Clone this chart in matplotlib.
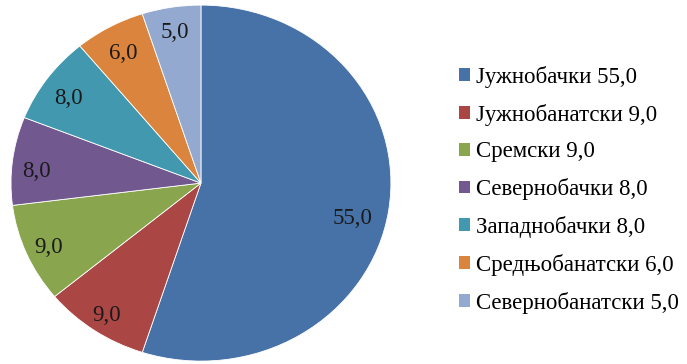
import numpy as np
import matplotlib
matplotlib.use("Agg")
import matplotlib.pyplot as plt
from matplotlib.patches import Patch

districts = ["Јужнобачки", "Јужнобанатски", "Сремски", "Севернобачки",
             "Западнобачки", "Средњобанатски", "Севернобанатски"]
shares = [55.0, 9.0, 9.0, 8.0, 8.0, 6.0, 5.0]
colors = ["#4672A8", "#AA4644", "#89A54E", "#71588F", "#4198AF", "#DB843D", "#93A9CF"]

def fmt(v):
    return f"{v:.1f}".replace(".", ",")

plt.rcParams["font.family"] = ["Liberation Serif", "DejaVu Serif"]

fig = plt.figure(figsize=(6.87, 3.64), dpi=100)
ax = fig.add_axes([0.016, 0.008, 0.553, 0.978])

wedges, _ = ax.pie(shares, colors=colors, startangle=90, counterclock=False,
                   radius=1.0, wedgeprops=dict(edgecolor="white", linewidth=0.6))
ax.set_aspect("auto")
ax.set_xlim(-1, 1)
ax.set_ylim(-1, 1)

# value labels inside each wedge (radial distance, angular nudge in degrees)
label_dist = [0.82, 0.88, 0.875, 0.867, 0.85, 0.848, 0.87]
label_nudge = [-4.0, 0.0, 0.0, 2.0, 1.0, 0.0, 0.0]
for w, v, d, n in zip(wedges, shares, label_dist, label_nudge):
    ang = np.deg2rad((w.theta1 + w.theta2) / 2 + n)
    ax.text(d * np.cos(ang), d * np.sin(ang), fmt(v), ha="center",
            va="center_baseline", fontsize=16.5, color="#1a1a1a")

handles = [Patch(facecolor=c, edgecolor="none") for c in colors]
labels = [f"{n} {fmt(v)}" for n, v in zip(districts, shares)]
fig.legend(handles, labels, loc="upper left", bbox_to_anchor=(0.668, 0.8195),
           frameon=False, fontsize=16.5, handlelength=0.48, handleheight=0.48,
           handletextpad=0.26, labelspacing=0.69, borderaxespad=0, borderpad=0)

fig.savefig("out.png", dpi=100)
